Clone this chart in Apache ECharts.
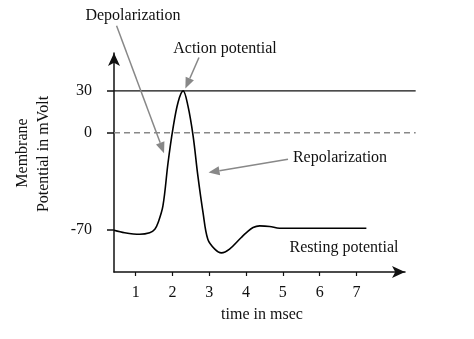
<!DOCTYPE html>
<html>
<head>
<meta charset="utf-8">
<script src="https://cdn.jsdelivr.net/npm/echarts@6/dist/echarts.min.js"></script>
<style>html,body{margin:0;padding:0;background:#fff}#c{width:474px;height:339px}</style>
</head>
<body>
<div id="c"></div>
<script>
// time (msec) and membrane potential (mV)
const timeMs = [0.41, 0.70, 1.11, 1.38, 1.52, 1.61, 1.74, 1.88, 2.01, 2.15, 2.29, 2.42, 2.56, 2.69, 2.83, 2.96, 3.15, 3.33, 3.55, 3.87, 4.01, 4.19, 4.37, 4.64, 4.91, 7.27];
const potential = [-70.0, -71.8, -72.9, -71.8, -69.3, -64.5, -52.6, -21.4, 2.5, 21.7, 30.0, 19.2, -2.3, -31.0, -57.3, -76.5, -83.6, -86.3, -83.6, -75.2, -71.7, -68.1, -66.9, -67.3, -68.6, -68.6];
const xTicks = [1, 2, 3, 4, 5, 6, 7];
const yTicks = [30, 0, -70];
const peakLevel = 30;
const zeroLevel = 0;
const refLineEnd = 8.61; // msec where the 30 / 0 reference lines stop
// annotation arrows: [fromTime, fromV, toTime, toV]
const arrowDepol = [0.48, 76.7, 1.77, -14.7];
const arrowAction = [2.72, 54, 2.35, 31.7];
const arrowRepol = [5.14, -19, 2.98, -28.6];

const FONT = '"Liberation Serif", "Times New Roman", serif';
const TXT = '16px ' + FONT;
const data = timeMs.map((t, i) => [t, potential[i]]);
const X_MIN = 0.41;

const chart = echarts.init(document.getElementById('c'));
chart.setOption({
  animation: false,
  grid: {left: 114, right: 69, top: 53, bottom: 67},
  xAxis: {
    type: 'value', min: X_MIN, max: 8.32,
    splitLine: {show: false},
    axisLine: {onZero: false, lineStyle: {color: '#111', width: 1.5}, symbol: ['none', 'arrow'], symbolSize: [9, 13]},
    axisTick: {customValues: xTicks, length: 4, lineStyle: {color: '#111', width: 1.2}},
    axisLabel: {customValues: xTicks, margin: 13, fontFamily: FONT, fontSize: 16, color: '#111'}
  },
  yAxis: {
    type: 'value', min: -100, max: 57.2,
    splitLine: {show: false},
    axisLine: {show: true, onZero: false, lineStyle: {color: '#111', width: 1.5}, symbol: ['none', 'arrow'], symbolSize: [9, 13]},
    axisTick: {show: true, customValues: yTicks, length: 7, lineStyle: {color: '#111', width: 1.5}},
    axisLabel: {customValues: yTicks, margin: 22, fontFamily: FONT, fontSize: 16, color: '#111'}
  },
  series: [{
    type: 'line', data: data, smooth: 0.35, showSymbol: false, clip: false, z: 5,
    lineStyle: {color: '#000', width: 1.6}
  }]
});

// reference lines and annotation arrows placed through the chart's own scales
const px = (t, v) => chart.convertToPixel({gridIndex: 0}, [t, v]);
function hLine(v, color, dash) {
  const a = px(X_MIN, v), b = px(refLineEnd, v);
  return {type: 'line', z: 3, shape: {x1: a[0], y1: a[1], x2: b[0], y2: b[1]},
          style: {stroke: color, lineWidth: 1.4, lineDash: dash}};
}
function arrow(a) {
  const p = px(a[0], a[1]), q = px(a[2], a[3]);
  const dx = q[0] - p[0], dy = q[1] - p[1], L = Math.hypot(dx, dy);
  const ux = dx / L, uy = dy / L, head = 11, half = 4.5;
  const bx = q[0] - ux * head, by = q[1] - uy * head;
  return [
    {type: 'line', z: 4, shape: {x1: p[0], y1: p[1], x2: bx, y2: by}, style: {stroke: '#888', lineWidth: 1.5}},
    {type: 'polygon', z: 4, shape: {points: [[q[0], q[1]], [bx - uy * half, by + ux * half], [bx + uy * half, by - ux * half]]},
     style: {fill: '#888'}}
  ];
}
const textEl = (x, y, s, rot) => ({type: 'text', x: x, y: y, rotation: rot || 0,
  style: {text: s, font: TXT, fill: '#111', align: 'center', verticalAlign: 'middle'}});

chart.setOption({
  graphic: [
    hLine(peakLevel, '#111', null),
    hLine(zeroLevel, '#888', [6, 4]),
    ...arrow(arrowDepol), ...arrow(arrowAction), ...arrow(arrowRepol),
    textEl(133, 16, 'Depolarization'),
    textEl(225, 49, 'Action potential'),
    textEl(340, 158, 'Repolarization'),
    textEl(344, 248, 'Resting potential'),
    textEl(262, 315, 'time in msec'),
    textEl(23, 153, 'Membrane', Math.PI / 2),
    textEl(44, 154, 'Potential in mVolt', Math.PI / 2)
  ]
});
</script>
</body>
</html>
